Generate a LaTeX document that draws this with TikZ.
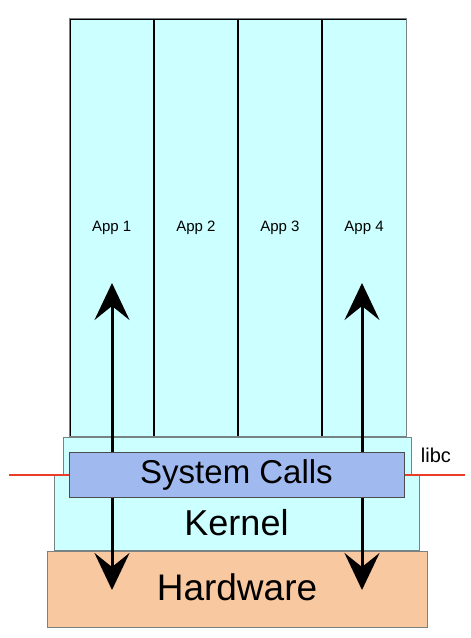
\documentclass[tikz,border=0pt]{standalone}
\usepackage{fontspec}
\setmainfont{Liberation Sans}
\usetikzlibrary{arrows.meta,positioning}
\definecolor{AppCyan}{RGB}{204,255,255}
\definecolor{SysBlue}{RGB}{160,186,240}
\definecolor{HwPeach}{RGB}{248,200,160}
\definecolor{EdgeGray}{RGB}{120,130,130}
\definecolor{LibcRed}{RGB}{235,60,40}

\tikzset{
  appbox/.style={draw=black, line width=0.6pt, fill=AppCyan, minimum width=83.5pt,
    minimum height=417pt, inner sep=0pt, font=\fontsize{15}{17}\selectfont},
  layerbox/.style={draw=EdgeGray, line width=0.8pt, inner sep=0pt},
  bigtext/.style={font=\fontsize{33}{38}\selectfont},
  syscall/.style={line width=3pt, {Stealth[length=37pt,width=35pt,inset=14pt]}-{Stealth[length=37pt,width=35pt,inset=14pt]}},
}

\begin{document}
\begin{tikzpicture}[x=1pt,y=-1pt]
      \useasboundingbox (0,0) rectangle (471,638);
      % applications
      \node[appbox] (app1) at (111.75,227.5) {App 1};
      \node[appbox, right=0pt of app1] (app2) {App 2};
      \node[appbox, right=0pt of app2] (app3) {App 3};
      \node[appbox, right=0pt of app3] (app4) {App 4};
      \draw[EdgeGray, line width=0.8pt] (app1.north west) rectangle (app4.south east);
      % kernel with libc step
      \fill[AppCyan] (63,437) -- (411,437) -- (411,475) -- (419,475) -- (419,550)
        -- (54,550) -- (54,475) -- (63,475) -- cycle;
      \draw[EdgeGray, line width=0.8pt] (63,475) -- (63,437) -- (411,437) -- (411,475);
      \draw[EdgeGray, line width=0.8pt] (54,475) rectangle (419,550);
      \node[bigtext, font=\fontsize{36}{40}\selectfont] (kernel) at (236.5,523) {Kernel};
      % libc boundary
      \coordinate (libcL) at (9,475);
      \coordinate (libcR) at (465,475);
      \draw[LibcRed, line width=1.2pt] (libcL) -- (libcR);
      \node[font=\fontsize{20}{22}\selectfont] (libc) at (436,455) {libc};
      % hardware
      \node[layerbox, fill=HwPeach, minimum width=380pt, minimum height=76pt] (hw) at (237,589) {};
      \node[bigtext, font=\fontsize{37}{42}\selectfont] (hwtext) at (237,587) {Hardware};
      % system call paths
      \coordinate (top1) at (112,283);
      \coordinate (bot1) at (112,590);
      \coordinate (top4) at (362,283);
      \coordinate (bot4) at (362,590);
      \draw[syscall] (bot1) -- (top1);
      \draw[syscall] (bot4) -- (top4);
      % system calls layer
      \node[layerbox, draw=black!70, fill=SysBlue, minimum width=335pt, minimum height=45pt,
        bigtext] (sys) at (236.5,474.5) {System Calls};
    \end{tikzpicture}
\end{document}
